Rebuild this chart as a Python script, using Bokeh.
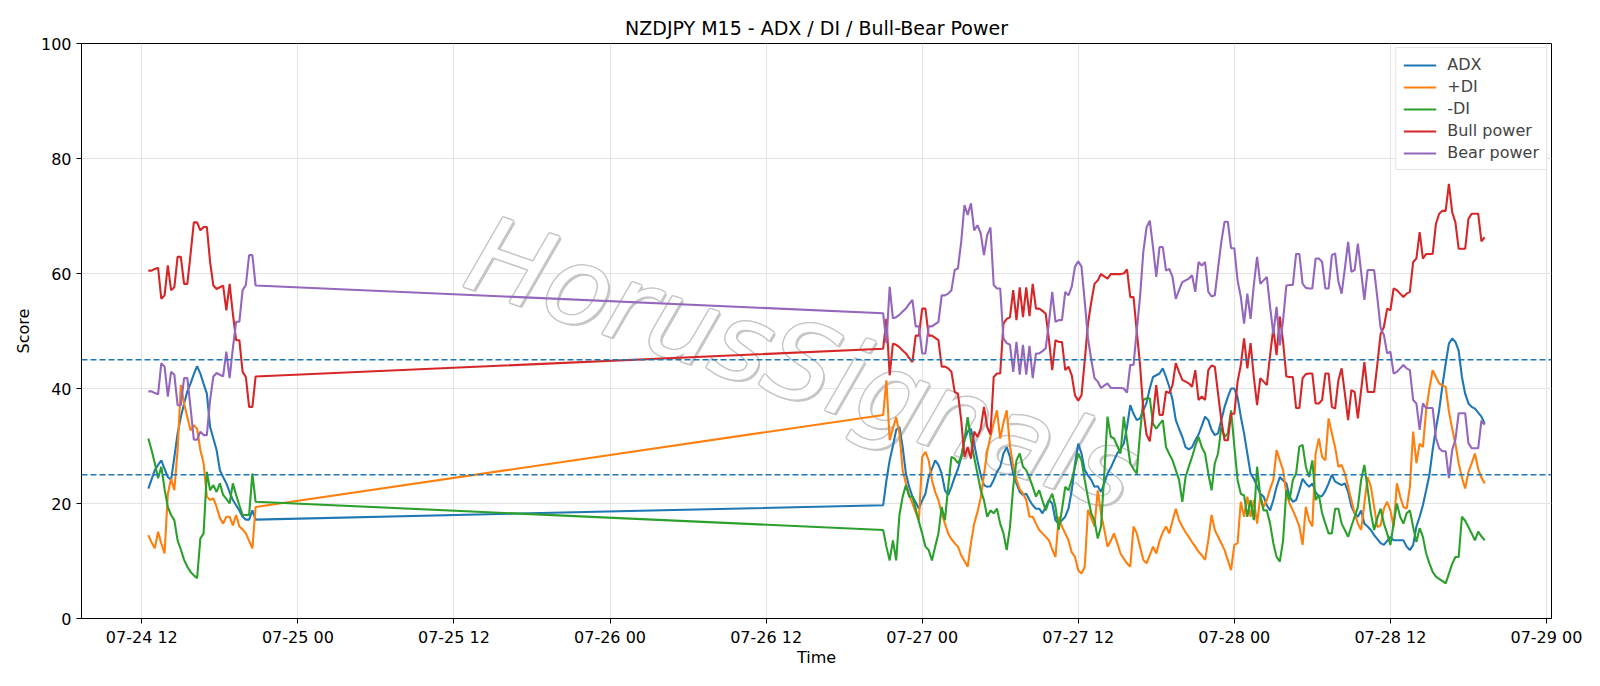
import pandas as pd
from bokeh.plotting import figure
from bokeh.models import ColumnDataSource, Range1d, FixedTicker, DatetimeTickFormatter, Span
from bokeh.core.properties import value
from bokeh.embed import file_html
from bokeh.resources import INLINE

TITLE = "NZDJPY M15 - ADX / DI / Bull-Bear Power"
X_LABEL = "Time"
Y_LABEL = "Score"
WATERMARK = "HorusSignals"
YEAR = "2026"
TICK_LABELS = ["07-24 12", "07-25 00", "07-25 12", "07-26 00", "07-26 12",
               "07-27 00", "07-27 12", "07-28 00", "07-28 12", "07-29 00"]
Y_TICKS = [0, 20, 40, 60, 80, 100]
THRESHOLDS = [25, 45]
SERIES_NAMES = ["ADX", "+DI", "-DI", "Bull power", "Bear power"]

# 15-minute bars: Friday session, then the market reopens on Sunday evening
SEG1_START = "2026-07-24 12:30"
SEG2_START = "2026-07-26 21:00"

adx_seg1 = [22.6, 24.2, 25.8, 26.7, 27.5, 26.0, 24.6, 24.1, 28.0, 32.2,
            35.0, 37.4, 39.5, 40.9, 42.5, 43.9, 42.6, 40.8, 39.1, 33.3,
            31.3, 29.3, 25.8, 24.6, 23.5, 22.0, 20.6, 19.7, 18.8, 17.7,
            17.2, 17.2, 18.8, 17.2]
pdi_seg1 = [14.5, 13.2, 12.2, 15.1, 13.0, 11.3, 21.7, 24.3, 22.3, 29.3,
            40.6, 37.4, 35.0, 32.7, 33.6, 33.0, 29.3, 27.0, 21.2, 20.6,
            20.9, 19.4, 17.5, 16.5, 17.7, 17.7, 16.2, 18.0, 16.0, 15.5,
            14.8, 13.5, 12.2, 19.4]
mdi_seg1 = [31.3, 29.3, 27.0, 24.4, 26.4, 22.5, 19.4, 18.0, 17.1, 13.6,
            12.0, 10.2, 9.0, 8.1, 7.5, 7.0, 13.9, 14.8, 25.5, 22.3,
            23.2, 22.0, 23.5, 21.5, 20.8, 20.0, 23.5, 21.5, 19.7, 18.0,
            18.0, 18.0, 25.2, 20.3]
bull_seg1 = [60.5, 60.5, 60.8, 61.0, 55.6, 56.2, 61.4, 57.1, 57.6, 62.9,
             62.9, 58.2, 58.2, 63.4, 68.9, 68.9, 67.5, 68.1, 68.1, 62.0,
             57.9, 57.3, 57.6, 57.9, 53.6, 58.2, 53.0, 48.4, 48.4, 42.9,
             42.0, 36.8, 36.8, 42.1]
bear_seg1 = [39.5, 39.5, 39.2, 39.0, 44.4, 43.8, 38.6, 42.9, 42.4, 37.1,
             37.1, 41.8, 41.8, 36.6, 31.1, 31.1, 32.5, 31.9, 31.9, 38.0,
             42.1, 42.7, 42.4, 42.1, 46.4, 41.8, 47.0, 51.6, 51.6, 57.1,
             58.0, 63.2, 63.2, 57.9]

adx_seg2 = [19.7, 24.0, 27.5, 30.0, 32.8, 33.3, 29.8, 25.2, 22.9, 21.2,
            20.2, 19.1, 20.5, 21.7, 24.6, 26.0, 27.5, 26.7, 25.2, 22.3,
            21.5, 22.9, 24.6, 26.0, 28.0, 31.0, 32.5, 33.0, 30.4, 27.5,
            25.0, 23.2, 22.9, 23.0, 24.1, 25.5, 26.4, 28.7, 29.8, 28.1,
            25.2, 23.5, 22.0, 21.5, 21.7, 20.6, 19.7, 19.1, 19.1, 18.3,
            19.4, 20.6, 20.0, 17.1, 16.5, 17.1, 17.7, 19.1, 22.3, 26.9,
            30.4, 28.7, 25.8, 24.9, 24.1, 22.9, 23.0, 22.0, 23.5, 25.2,
            26.2, 27.5, 28.7, 29.5, 30.4, 33.3, 37.1, 35.6, 34.5, 34.8,
            36.2, 37.5, 40.0, 42.0, 42.3, 42.6, 43.5, 42.0, 40.3, 38.0,
            34.5, 33.0, 31.6, 29.8, 29.4, 29.8, 31.0, 32.0, 33.5, 35.1,
            34.5, 32.8, 31.9, 32.2, 34.5, 36.8, 38.5, 40.0, 40.0, 38.5,
            35.1, 32.2, 28.7, 25.2, 24.3, 23.0, 21.7, 21.2, 19.7, 18.8,
            20.6, 22.9, 24.6, 24.0, 23.5, 21.2, 20.3, 20.6, 22.3, 24.3,
            23.5, 22.9, 23.5, 22.0, 21.2, 21.3, 22.2, 23.5, 25.0, 23.8,
            23.5, 23.2, 23.5, 22.0, 19.5, 18.3, 17.7, 18.8, 16.5, 16.0,
            15.4, 14.5, 13.8, 13.1, 12.8, 13.5, 14.2, 13.6, 13.6, 13.6,
            13.6, 12.5, 11.9, 12.8, 16.0, 17.7, 19.7, 22.3, 25.0, 29.3,
            33.0, 36.2, 40.5, 44.3, 47.8, 48.7, 48.1, 46.6, 42.0, 39.1,
            37.4, 36.8, 36.5, 35.8, 35.1, 33.9]
pdi_seg2 = [35.4, 41.4, 31.0, 33.0, 35.0, 32.2, 25.8, 23.5, 21.5, 20.0,
            18.5, 17.1, 28.1, 29.0, 27.5, 24.1, 22.0, 20.6, 18.3, 16.5,
            14.8, 13.8, 13.1, 12.5, 11.0, 10.0, 9.0, 13.1, 16.5, 18.5,
            21.0, 25.0, 29.0, 31.6, 34.0, 36.2, 31.3, 34.0, 36.2, 30.0,
            26.5, 24.1, 22.5, 21.7, 20.6, 17.7, 17.7, 16.5, 15.4, 14.8,
            14.2, 13.6, 12.0, 10.7, 17.7, 16.0, 14.8, 13.6, 11.5, 10.7,
            8.4, 7.8, 9.0, 18.9, 17.5, 16.0, 22.3, 18.3, 15.5, 12.5,
            13.5, 14.8, 13.1, 11.3, 10.4, 9.6, 9.0, 16.0, 14.8, 12.5,
            10.2, 9.6, 11.0, 12.5, 11.3, 13.5, 15.0, 16.0, 14.8, 17.0,
            19.1, 17.1, 16.0, 15.0, 14.2, 13.3, 12.5, 11.6, 11.0, 10.2,
            13.6, 18.0, 15.4, 14.2, 13.1, 11.9, 10.2, 8.4, 12.8, 13.1,
            20.3, 17.7, 21.2, 17.7, 20.6, 16.5, 21.2, 19.4, 20.6, 22.5,
            24.1, 29.3, 27.5, 25.8, 21.7, 20.0, 18.8, 17.5, 16.0, 12.8,
            19.4, 17.1, 16.0, 28.7, 31.3, 28.1, 27.5, 34.8, 32.2, 29.8,
            26.4, 26.7, 25.2, 22.9, 20.6, 18.3, 16.5, 15.4, 20.0, 24.6,
            22.9, 19.4, 15.9, 16.2, 19.1, 20.3, 18.8, 15.9, 23.5, 21.2,
            19.4, 19.1, 22.9, 32.5, 27.0, 30.4, 29.8, 36.2, 40.0, 43.2,
            42.0, 40.9, 40.5, 40.3, 36.0, 33.0, 30.4, 27.0, 24.5, 22.6,
            25.5, 27.0, 28.7, 26.0, 24.5, 23.5]
mdi_seg2 = [15.4, 12.5, 10.1, 13.6, 10.1, 18.0, 21.2, 23.2, 21.2, 21.2,
            19.1, 16.8, 14.8, 12.5, 11.9, 10.1, 12.5, 14.8, 19.4, 17.1,
            22.9, 28.1, 27.8, 27.0, 28.1, 31.0, 35.0, 31.0, 28.0, 25.2,
            22.3, 20.6, 17.7, 18.8, 18.3, 19.1, 16.5, 14.8, 11.9, 15.9,
            22.9, 27.5, 28.7, 26.4, 25.8, 24.5, 22.9, 21.2, 22.3, 20.5,
            18.8, 20.5, 21.7, 19.4, 15.4, 19.0, 22.9, 22.3, 24.1, 26.4,
            28.7, 27.5, 24.1, 21.0, 18.3, 17.0, 13.9, 16.0, 25.0, 35.1,
            31.6, 31.3, 30.0, 28.7, 35.1, 31.0, 27.0, 26.0, 25.2, 32.2,
            38.0, 38.3, 38.3, 33.9, 33.0, 33.8, 34.5, 29.8, 28.6, 27.5,
            25.8, 24.1, 20.3, 24.6, 26.4, 28.1, 30.0, 31.6, 29.8, 28.7,
            25.2, 22.3, 27.0, 28.7, 33.3, 31.6, 32.2, 36.2, 30.0, 24.1,
            21.7, 21.4, 17.7, 20.6, 17.1, 26.4, 21.2, 18.8, 18.8, 16.5,
            13.1, 10.7, 9.9, 13.6, 22.3, 20.6, 24.1, 25.2, 29.9, 30.2,
            26.4, 24.6, 27.5, 20.6, 21.5, 18.3, 16.5, 14.8, 14.8, 19.1,
            19.1, 16.5, 15.4, 14.2, 16.0, 17.7, 19.4, 24.1, 26.7, 22.6,
            18.3, 15.4, 17.5, 19.1, 16.5, 14.8, 12.8, 16.5, 20.0, 17.7,
            16.5, 18.3, 18.8, 15.9, 13.3, 15.7, 14.2, 11.3, 9.6, 8.1,
            7.3, 6.9, 6.5, 6.1, 7.8, 9.5, 10.7, 10.7, 17.7, 17.0,
            15.9, 14.8, 13.6, 15.1, 14.3, 13.6]
bull_seg2 = [46.9, 52.1, 42.3, 47.8, 47.6, 47.2, 46.6, 46.1, 45.3, 44.6,
             49.2, 49.2, 53.9, 53.9, 49.2, 49.2, 48.8, 48.4, 43.8, 43.8,
             43.5, 42.9, 39.4, 39.1, 34.5, 28.1, 29.8, 27.8, 32.5, 31.6,
             33.0, 36.8, 33.3, 32.0, 42.0, 42.6, 42.6, 51.3, 52.1, 52.4,
             57.1, 51.9, 57.6, 52.4, 57.6, 52.6, 58.2, 53.9, 53.9, 53.5,
             53.0, 48.4, 43.2, 48.4, 48.1, 48.1, 43.2, 43.8, 42.3, 38.8,
             37.9, 38.8, 44.9, 51.3, 55.0, 58.2, 58.8, 59.9, 59.5, 59.1,
             59.9, 59.9, 59.9, 59.9, 60.0, 60.7, 55.9, 55.9, 49.9, 44.1,
             36.3, 32.0, 30.8, 35.4, 40.6, 35.4, 35.4, 39.5, 39.2, 40.6,
             44.4, 42.9, 41.5, 41.2, 40.9, 40.3, 43.2, 38.0, 38.6, 38.0,
             43.2, 44.0, 43.8, 39.1, 34.5, 31.0, 31.0, 35.6, 35.6, 41.2,
             44.1, 48.7, 43.5, 47.9, 42.0, 37.1, 41.8, 41.2, 40.6, 45.8,
             50.5, 45.8, 52.5, 48.1, 42.1, 42.0, 42.0, 36.6, 36.6, 41.8,
             42.5, 42.6, 42.6, 37.4, 37.4, 38.0, 42.6, 42.6, 36.8, 36.5,
             41.4, 43.5, 39.1, 34.5, 39.7, 39.4, 34.8, 39.7, 44.6, 39.4,
             39.4, 39.4, 44.3, 49.5, 50.7, 53.9, 53.6, 57.4, 57.1, 56.5,
             55.9, 56.5, 56.8, 62.0, 62.6, 67.2, 62.6, 63.4, 63.4, 63.4,
             68.6, 70.4, 70.9, 70.9, 75.6, 70.7, 68.9, 64.3, 64.3, 64.3,
             69.5, 70.4, 70.4, 70.4, 65.6, 66.3]
bear_seg2 = [53.1, 47.9, 57.7, 52.2, 52.4, 52.8, 53.4, 53.9, 54.7, 55.4,
             50.8, 50.8, 46.1, 46.1, 50.8, 50.8, 51.2, 51.6, 56.2, 56.2,
             56.5, 57.1, 60.6, 60.9, 65.5, 71.9, 70.2, 72.2, 67.5, 68.4,
             67.0, 63.2, 66.7, 68.0, 58.0, 57.4, 57.4, 48.7, 47.9, 47.6,
             42.9, 48.1, 42.4, 47.6, 42.4, 47.4, 41.8, 46.1, 46.1, 46.5,
             47.0, 51.6, 56.8, 51.6, 51.9, 51.9, 56.8, 56.2, 57.7, 61.2,
             62.1, 61.2, 55.1, 48.7, 45.0, 41.8, 41.2, 40.1, 40.5, 40.9,
             40.1, 40.1, 40.1, 40.1, 40.0, 39.3, 44.1, 44.1, 50.1, 55.9,
             63.7, 68.0, 69.2, 64.6, 59.4, 64.6, 64.6, 60.5, 60.8, 59.4,
             55.6, 57.1, 58.5, 58.8, 59.1, 59.7, 56.8, 62.0, 61.4, 62.0,
             56.8, 56.0, 56.2, 60.9, 65.5, 69.0, 69.0, 64.4, 64.4, 58.8,
             55.9, 51.3, 56.5, 52.1, 58.0, 62.9, 58.2, 58.8, 59.4, 54.2,
             49.5, 54.2, 47.5, 51.9, 57.9, 58.0, 58.0, 63.4, 63.4, 58.2,
             57.5, 57.4, 57.4, 62.6, 62.6, 62.0, 57.4, 57.4, 63.2, 63.5,
             58.6, 56.5, 60.9, 65.5, 60.3, 60.6, 65.2, 60.3, 55.4, 60.6,
             60.6, 60.6, 55.7, 50.5, 49.3, 46.1, 46.4, 42.6, 42.9, 43.5,
             44.1, 43.5, 43.2, 38.0, 37.4, 32.8, 37.4, 36.6, 36.6, 36.6,
             31.4, 29.6, 29.1, 29.1, 24.4, 29.3, 31.1, 35.7, 35.7, 35.7,
             30.5, 29.6, 29.6, 29.6, 34.4, 33.7]

for seg in (pdi_seg1, mdi_seg1, bull_seg1, bear_seg1):
    if len(seg) != len(adx_seg1):
        raise ValueError("segment 1 length mismatch")
for seg in (pdi_seg2, mdi_seg2, bull_seg2, bear_seg2):
    if len(seg) != len(adx_seg2):
        raise ValueError("segment 2 length mismatch")

times = pd.date_range(SEG1_START, periods=len(adx_seg1), freq="15min").append(
    pd.date_range(SEG2_START, periods=len(adx_seg2), freq="15min"))


def to_ms(ts):
    return pd.Timestamp(ts).value / 1e6


source = ColumnDataSource(dict(
    t=[to_ms(t) for t in times],
    adx=adx_seg1 + adx_seg2,
    pdi=pdi_seg1 + pdi_seg2,
    mdi=mdi_seg1 + mdi_seg2,
    bull=bull_seg1 + bull_seg2,
    bear=bear_seg1 + bear_seg2,
))

t0, t1 = to_ms(times[0]), to_ms(times[-1])
pad = 0.05 * (t1 - t0)
tick_ms = [to_ms(f"{YEAR}-{lbl[:5]} {lbl[6:]}:00") for lbl in TICK_LABELS]

FONT = "DejaVu Sans"
p = figure(width=1600, height=686, x_axis_type="datetime",
           x_range=Range1d(t0 - pad, t1 + pad), y_range=Range1d(0, 100),
           output_backend="svg", toolbar_location=None,
           min_border_left=81, min_border_right=49,
           min_border_top=43, min_border_bottom=68,
           title=TITLE)
p.background_fill_color = "white"
p.border_fill_color = "white"
p.outline_line_color = "black"
p.outline_line_width = 1
p.outline_line_alpha = 1

p.title.text_font = FONT
p.title.text_font_size = "19px"
p.title.text_font_style = "normal"
p.title.align = "center"
p.title.text_color = "black"

p.xaxis.ticker = FixedTicker(ticks=tick_ms)
fmt = "%m-%d %H"
p.xaxis.formatter = DatetimeTickFormatter(
    microseconds=fmt, milliseconds=fmt, seconds=fmt, minsec=fmt, minutes=fmt,
    hourmin=fmt, hours=fmt, days=fmt, months=fmt, years=fmt)
p.yaxis.ticker = FixedTicker(ticks=Y_TICKS)
p.xgrid.ticker = FixedTicker(ticks=tick_ms)
p.ygrid.ticker = FixedTicker(ticks=Y_TICKS)
p.xaxis.axis_label = X_LABEL
p.yaxis.axis_label = Y_LABEL
for ax in p.axis:
    ax.major_label_text_font = FONT
    ax.major_label_text_font_size = "16px"
    ax.major_label_text_color = "black"
    ax.axis_label_text_font = FONT
    ax.axis_label_text_font_size = "16px"
    ax.axis_label_text_font_style = "normal"
    ax.axis_label_text_color = "black"
    ax.axis_line_color = "black"
    ax.major_tick_line_color = "black"
    ax.major_tick_out = 5
    ax.major_tick_in = 0
    ax.minor_tick_line_color = None
p.xaxis.major_label_standoff = 4
p.xaxis.axis_label_standoff = -2
p.yaxis.major_label_standoff = 5
p.yaxis.axis_label_standoff = 5

for g in (p.xgrid, p.ygrid):
    g.grid_line_color = "#e3e3e3"
    g.grid_line_width = 1

# watermark: hollow italic lettering
wm_x = [to_ms("2026-07-25 13:27")]
wm_y = [64.0]
wm_kw = dict(text=[WATERMARK], angle=-0.33, text_font=value(FONT),
             text_font_style="italic", text_font_size="107px",
             text_align="left", text_baseline="alphabetic")
for dx, dy in [(-1.4, 0), (1.4, 0), (0, -1.4), (0, 1.4),
               (-1, -1), (1, 1), (-1, 1), (1, -1), (1.8, 1.8), (2.2, 2.2)]:
    p.text(x=wm_x, y=wm_y, x_offset=dx, y_offset=dy, text_color="#c6c6c6", **wm_kw)
p.text(x=wm_x, y=wm_y, text_color="white", **wm_kw)

colors = ["#1f77b4", "#ff7f0e", "#2ca02c", "#d62728", "#9467bd"]
cols = ["adx", "pdi", "mdi", "bull", "bear"]
for col, c, name in zip(cols, colors, SERIES_NAMES):
    p.line(x="t", y=col, source=source, line_color=c, line_width=2.1, legend_label=name)

for lvl in THRESHOLDS:
    p.add_layout(Span(location=lvl, dimension="width", line_color="#1f77b4",
                      line_dash="6 3", line_width=1.4))

lg = p.legend[0]
lg.location = "top_right"
lg.margin = 4
lg.padding = 7
lg.spacing = 3
lg.glyph_width = 33
lg.glyph_height = 18
lg.label_height = 18
lg.label_standoff = 11
lg.label_text_font = FONT
lg.label_text_font_size = "16px"
lg.border_line_color = "#cccccc"
lg.border_line_width = 1
lg.background_fill_alpha = 0.85

open("out.html", "w").write(file_html(p, INLINE, title=TITLE))
